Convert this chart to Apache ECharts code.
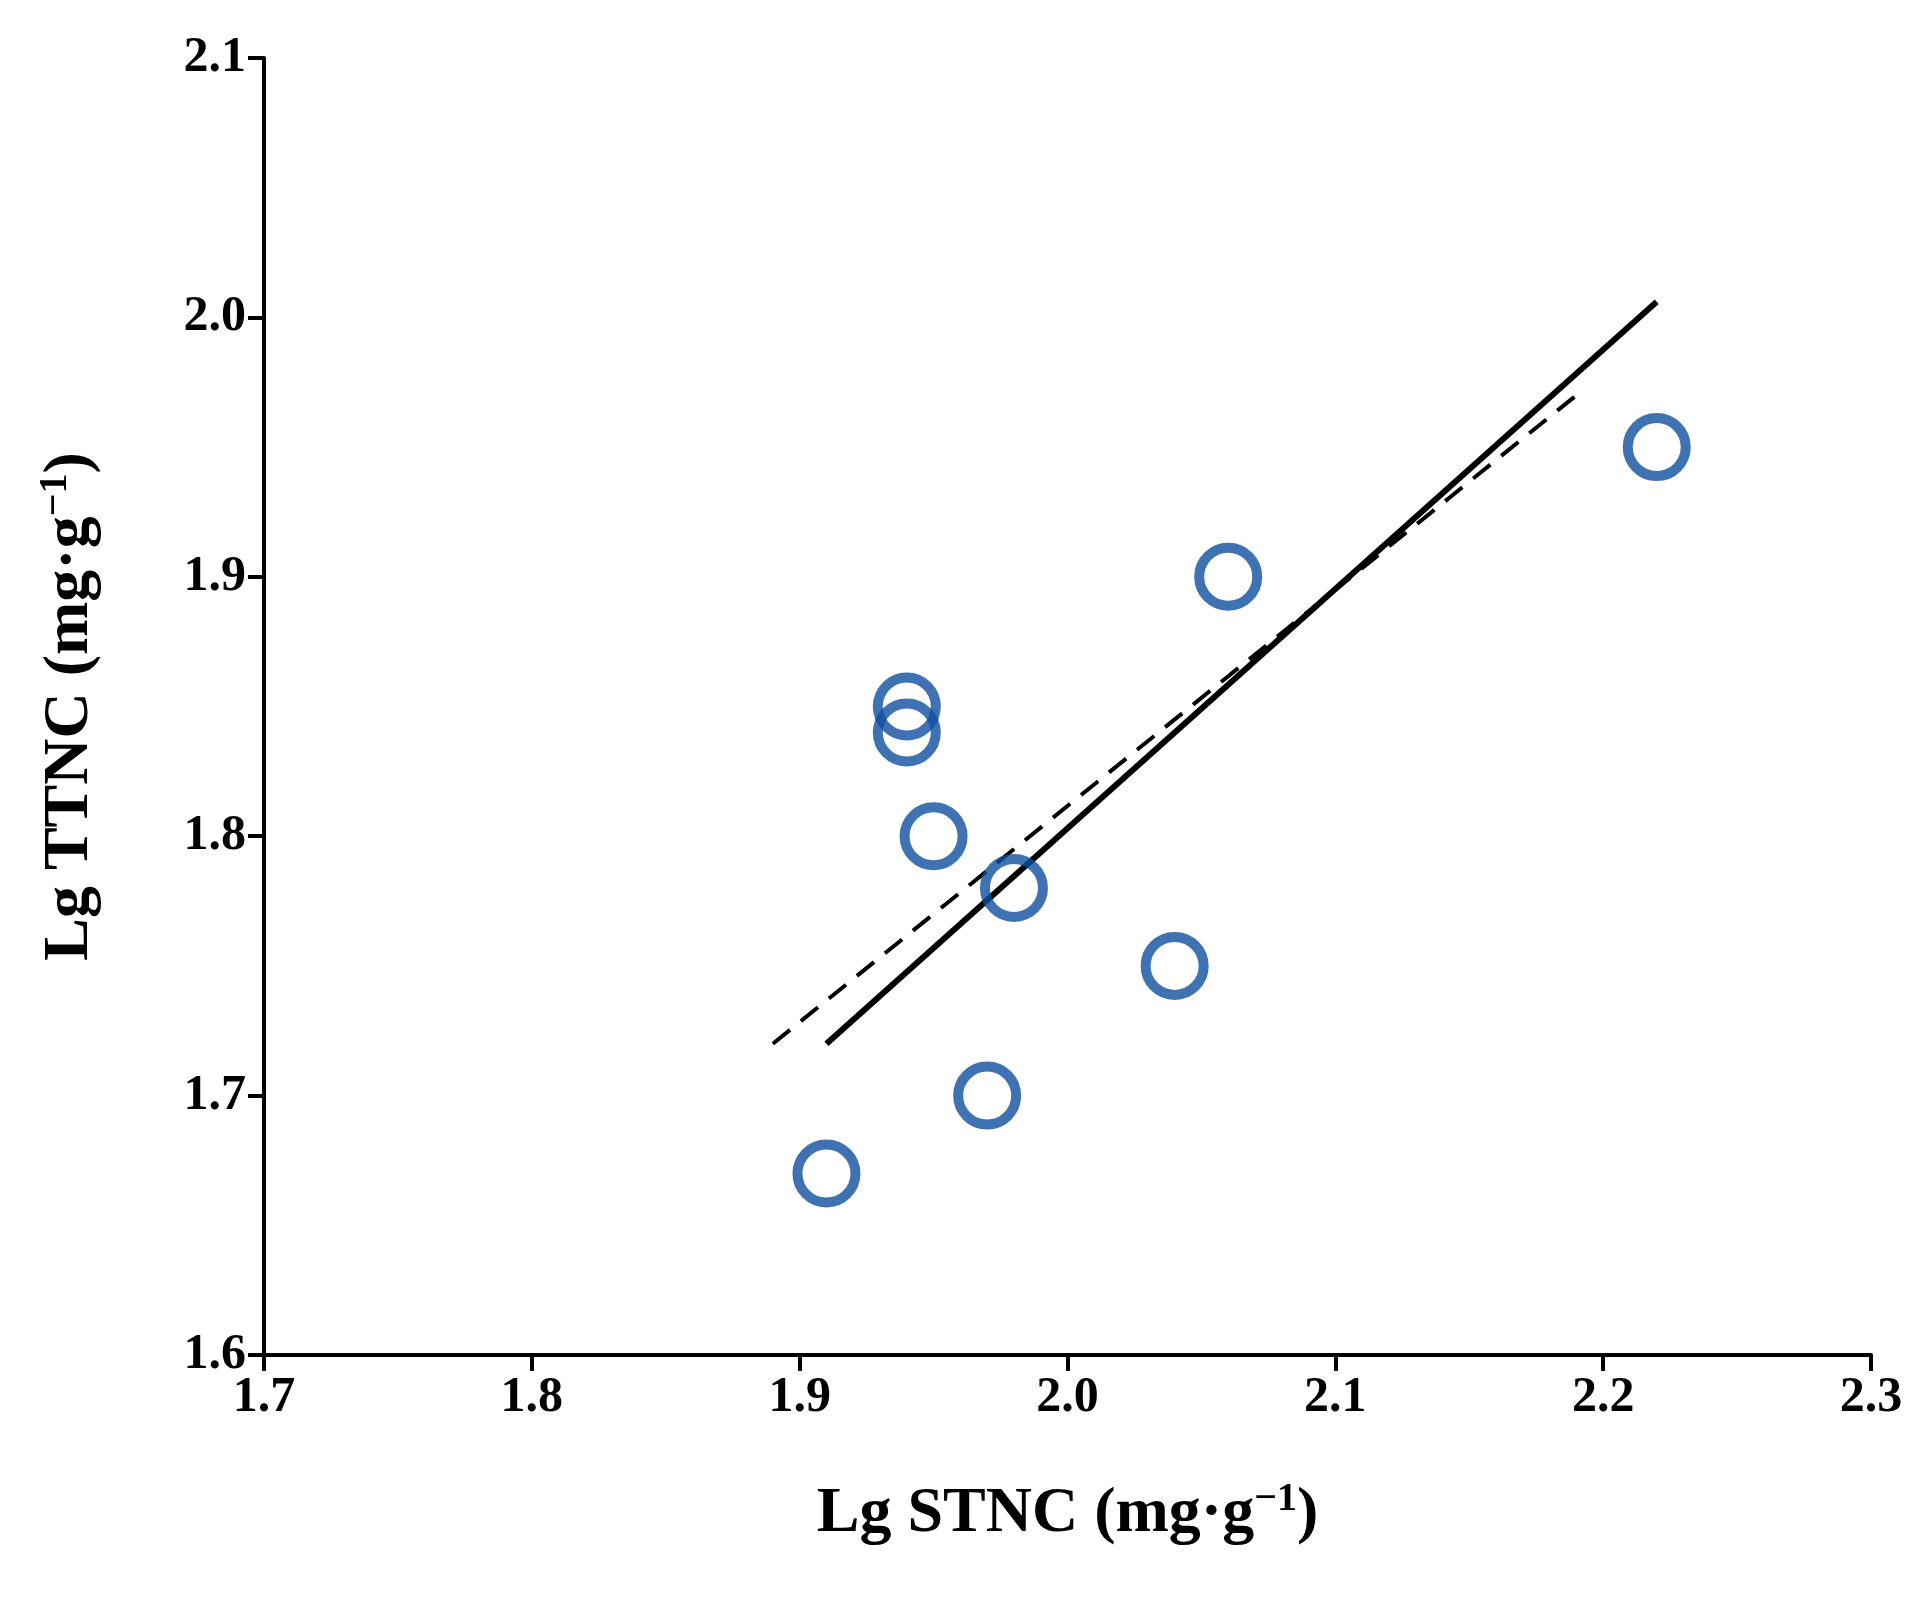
<!DOCTYPE html><html><head><meta charset="utf-8"><script src="https://cdn.jsdelivr.net/npm/echarts@6/dist/echarts.min.js"></script>
<style>body{margin:0;background:#fff}#c{width:1928px;height:1597px}</style></head><body><div id="c"></div><script>
const xs=[1.91,1.94,1.94,1.95,1.98,1.97,2.04,2.06,2.22];
const ys=[1.67,1.85,1.84,1.80,1.78,1.70,1.75,1.90,1.95];
const solidLine=[[1.91,1.72],[2.22,2.006]];
const dashedLine=[[1.89,1.72],[2.19,1.97]];
const font='Liberation Serif';
const ax={axisLine:{lineStyle:{color:'#000',width:4}},axisTick:{length:16,lineStyle:{width:4,color:'#000'}},splitLine:{show:false},
 axisLabel:{color:'#000',fontSize:50,fontWeight:'bold',fontFamily:font,margin:18,formatter:v=>v.toFixed(1)}};
const rich={t:{fontSize:64,fontWeight:'bold',fontFamily:font,color:'#000'},s:{fontSize:40,fontWeight:'bold',fontFamily:font,color:'#000',verticalAlign:'top',padding:[0,0,28,0]}};
const ch=echarts.init(document.getElementById('c'));
ch.setOption({animation:false,grid:{left:264,right:57,top:58,bottom:242},
xAxis:Object.assign({type:'value',min:1.7,max:2.3,interval:0.1,name:'{t|Lg STNC (mg·g}{s|−1}{t|)}',nameLocation:'middle',nameGap:125,nameTextStyle:{rich}},ax),
yAxis:Object.assign({type:'value',min:1.6,max:2.1,interval:0.1,name:'{t|Lg TTNC (mg·g}{s|−1}{t|)}',nameLocation:'middle',nameGap:160,nameRotate:90,nameTextStyle:{rich}},ax),
series:[
{type:'line',data:solidLine,symbol:'none',lineStyle:{color:'#000',width:6},z:2},
{type:'line',data:dashedLine,symbol:'none',lineStyle:{color:'#000',width:4,type:[22,14]},z:2},
{type:'scatter',data:xs.map((x,i)=>[x,ys[i]]),symbol:'circle',symbolSize:58,itemStyle:{color:'rgba(0,0,0,0)',borderColor:'#0f4f9f',borderWidth:10},z:3}
]});
</script></body></html>
